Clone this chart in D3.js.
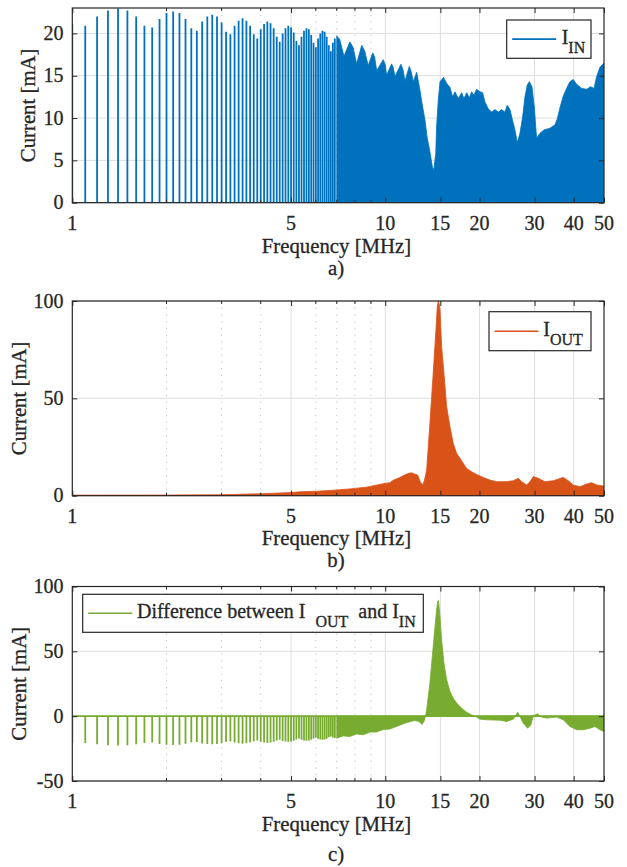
<!DOCTYPE html>
<html><head><meta charset="utf-8">
<script src="https://cdn.jsdelivr.net/npm/d3@7"></script>
<style>body{margin:0;background:#fff}</style>
</head><body>
<svg id="chart" width="627" height="867"></svg>
<script>
// ---------------- DATA ----------------
const xTickValues = [1, 5, 10, 15, 20, 30, 40, 50];
const xMinorGridValues = [2, 3, 4, 6, 7, 8, 9];
const xMinorTickValues = [2, 3, 4, 6, 7, 8, 9];
const yTicksA = [0, 5, 10, 15, 20];
const yTicksB = [0, 50, 100];
const yTicksC = [-50, 0, 50, 100];

// harmonic frequencies (MHz) where individual spectral lines are distinguishable
const harmonicFreqs = [1.0,1.1,1.2,1.3,1.4,1.5,1.6,1.7,1.8,1.9,2.0,2.1,2.2,2.3,2.4,2.5,2.6,2.7,2.8,2.9,
  3.0,3.1,3.2,3.3,3.4,3.5,3.6,3.7,3.8,3.9,4.0,4.1,4.2,4.3,4.4,4.5,4.6,4.7,4.8,4.9,
  5.0,5.1,5.2,5.3,5.4,5.5,5.6,5.7,5.8,5.9,6.0,6.1,6.2,6.3,6.4,6.5,6.6,6.7,6.8,6.9];

// I_IN line amplitudes (mA) at harmonicFreqs
const inSpikes = [21.1,20.9,22.0,22.7,22.95,22.7,22.0,20.9,20.7,21.7,22.4,22.6,22.4,21.7,20.6,20.3,21.4,22.0,22.2,22.0,
  21.3,20.2,19.9,20.9,21.5,21.8,21.5,20.9,19.9,19.4,20.5,21.1,21.4,21.2,20.6,19.6,19.0,20.0,20.6,20.9,
  20.7,20.1,19.1,18.6,19.6,20.3,20.6,20.5,19.8,18.9,18.35,19.4,20.0,20.3,20.2,19.6,18.6,17.9,18.9,19.4];

// I_IN envelope (dense region) [MHz, mA]
const inEnvelope = [[7.0,19.7],[7.15,19.3],[7.38,17.3],[7.71,19.0],[7.9,18.3],[8.1,16.4],[8.41,18.6],[8.6,17.9],
  [8.82,16.2],[9.12,17.7],[9.25,17.2],[9.39,15.6],[9.85,16.9],[10.0,16.3],[10.1,15.05],[10.48,16.4],[10.6,16.0],
  [10.74,14.9],[11.22,16.35],[11.4,15.7],[11.56,14.35],[11.93,16.1],[12.1,15.5],[12.29,14.3],[12.6,15.4],
  [12.91,13.3],[13.07,12.0],[13.4,9.7],[13.6,7.8],[13.89,6.0],[14.15,4.2],[14.3,3.9],[14.5,5.8],[14.59,9.0],
  [14.77,12.1],[14.96,14.3],[15.35,14.8],[15.71,14.1],[16.1,13.6],[16.42,12.5],[16.7,13.1],[17.12,12.3],
  [17.54,13.0],[17.84,12.3],[18.2,13.0],[18.56,12.4],[18.88,13.1],[19.2,12.7],[19.58,13.4],[20.07,13.1],
  [20.47,13.0],[20.82,11.9],[21.34,11.1],[21.87,10.7],[22.41,11.0],[22.97,10.7],[23.54,11.0],[24.12,10.7],
  [24.54,11.5],[25.03,11.0],[25.52,9.7],[25.97,8.6],[26.42,7.1],[26.94,8.2],[27.47,10.1],[27.95,12.5],
  [28.43,13.9],[28.86,14.3],[29.43,13.7],[29.94,11.3],[30.45,7.6],[31.22,8.2],[32.14,8.6],[33.59,8.8],
  [34.85,9.2],[35.45,9.9],[36.15,11.2],[37.05,12.6],[37.96,13.5],[38.91,14.3],[39.87,14.55],[40.87,14.0],
  [42.41,13.5],[44.0,13.4],[45.31,13.7],[46.44,13.5],[47.36,14.9],[48.52,16.0],[50.0,16.5]];

// I_OUT envelope [MHz, mA]
const outEnvelope = [[1.0,0.3],[2.0,0.35],[3.0,0.5],[4.0,1.0],[5.0,1.6],[5.34,2.0],[6.04,2.3],[6.82,2.8],
  [7.71,3.5],[8.72,4.4],[9.86,6.2],[10.35,6.7],[10.6,7.9],[11.08,9.2],[11.66,11.0],[12.09,11.8],[12.39,11.2],
  [12.69,10.6],[12.91,7.4],[13.17,5.5],[13.35,8.0],[13.56,13.2],[13.89,37.2],[14.23,62.9],[14.52,85.2],
  [14.66,97.0],[14.77,100.0],[14.9,98.0],[14.96,95.4],[15.14,76.6],[15.4,62.9],[15.71,45.7],[16.1,35.4],
  [16.49,26.9],[16.9,21.8],[17.33,19.2],[17.76,16.6],[18.2,14.0],[18.88,12.3],[19.58,10.9],[20.57,9.4],
  [21.6,8.0],[22.69,7.2],[24.42,7.2],[25.65,7.7],[26.61,8.9],[27.28,7.2],[28.29,5.5],[29.0,7.2],[29.72,9.8],
  [30.83,8.9],[32.38,7.2],[34.42,7.7],[37.05,9.4],[38.44,7.7],[39.87,5.5],[41.88,4.6],[44.0,6.0],[45.63,6.7],
  [47.35,5.5],[49.73,5.0],[50.0,5.0]];

// Difference I_OUT - I_IN line amplitudes (mA) at harmonicFreqs
const diffSpikes = [-20.8,-20.7,-21.7,-22.4,-22.7,-22.4,-21.7,-20.6,-20.4,-21.4,-22.1,-22.2,-22.0,-21.3,-20.2,-19.9,-21.0,-21.5,-21.7,-21.5,
  -20.8,-19.7,-19.4,-20.3,-20.9,-21.2,-20.9,-20.3,-19.3,-18.8,-19.8,-20.4,-20.6,-20.4,-19.8,-18.8,-18.1,-19.1,-19.6,-19.8,
  -19.5,-18.9,-17.9,-17.3,-18.2,-18.8,-19.0,-18.8,-18.1,-17.2,-16.6,-17.5,-18.0,-18.2,-18.0,-17.4,-16.3,-15.6,-16.5,-16.9];

// Difference envelope (dense region) [MHz, mA]
const diffEnvelope = [[7.0,-17.0],[7.34,-15.2],[7.71,-15.7],[8.1,-13.7],[8.51,-14.4],[8.94,-12.3],[9.38,-12.2],
  [9.86,-10.3],[10.35,-9.9],[10.87,-7.9],[11.66,-5.0],[12.39,-3.4],[12.8,-4.0],[13.1,-6.5],[13.3,-4.0],[13.45,0.0],
  [13.56,4.9],[13.89,25.6],[14.23,53.7],[14.52,76.9],[14.7,88.4],[14.8,89.2],[14.96,76.9],[15.14,58.9],[15.4,40.9],
  [15.71,28.1],[16.1,19.1],[16.49,13.9],[16.9,10.1],[17.33,7.5],[17.76,4.9],[18.2,3.1],[18.65,1.6],[19.1,0.3],
  [19.58,-0.7],[20.07,-2.3],[21.1,-2.8],[23.25,-3.1],[24.42,-4.1],[25.65,-2.3],[26.1,0.5],[26.5,3.0],[26.94,-0.3],
  [27.6,-5.4],[28.5,-9.3],[29.2,-6.7],[29.72,0.2],[30.6,1.8],[31.6,-0.7],[32.8,-1.5],[35.3,-0.7],[37.05,-2.8],
  [38.9,-7.9],[40.9,-10.5],[43.0,-10.5],[45.1,-9.3],[46.8,-7.9],[48.5,-10.5],[50.0,-11.8]];

// ---------------- DRAWING ----------------
const svg = d3.select("#chart");
const X0 = 72.3, X1 = 604;
const x = d3.scaleLog().domain([1, 50]).range([X0, X1]);
const INK = "#262626";
const fmt = d => String(d);
const textLayer = [];

function addText(props) { textLayer.push(props); }

function panel(cfg, idx) {
  const y = d3.scaleLinear().domain(cfg.yDomain).range([cfg.bottom, cfg.top]);
  const g = svg.append("g");
  const cid = "clip" + idx;
  svg.append("clipPath").attr("id", cid).append("rect")
    .attr("x", X0).attr("y", cfg.top).attr("width", X1 - X0).attr("height", cfg.bottom - cfg.top);

  // grid
  g.selectAll(".hg").data(cfg.yTicks).join("line")
    .attr("x1", X0).attr("x2", X1).attr("y1", d => y(d)).attr("y2", d => y(d))
    .attr("stroke", "#dedede").attr("stroke-width", 1);
  g.selectAll(".vg").data(xTickValues.slice(1, -1)).join("line")
    .attr("x1", d => x(d)).attr("x2", d => x(d)).attr("y1", cfg.top).attr("y2", cfg.bottom)
    .attr("stroke", "#dedede").attr("stroke-width", 1);
  g.selectAll(".mg").data(xMinorGridValues).join("line")
    .attr("x1", d => x(d)).attr("x2", d => x(d)).attr("y1", cfg.top).attr("y2", cfg.bottom)
    .attr("stroke", "#c4c4c4").attr("stroke-width", 1).attr("stroke-dasharray", "1.3,5.4");

  // data
  const dg = g.append("g").attr("clip-path", `url(#${cid})`);
  if (cfg.envelope) {
    const area = d3.area().x(d => x(d[0])).y0(y(0)).y1(d => y(d[1]));
    dg.append("path").datum(cfg.envelope).attr("d", area).attr("fill", cfg.color)
      .attr("stroke", cfg.color).attr("stroke-width", 0.8);
  }
  if (cfg.spikes) {
    dg.selectAll(".sp").data(cfg.spikes).join("line")
      .attr("x1", (d, i) => x(harmonicFreqs[i])).attr("x2", (d, i) => x(harmonicFreqs[i]))
      .attr("y1", y(0)).attr("y2", d => y(d))
      .attr("stroke", cfg.color).attr("stroke-width", 1.8);
  }
  dg.append("line").attr("x1", X0).attr("x2", X1).attr("y1", y(0)).attr("y2", y(0))
    .attr("stroke", cfg.color).attr("stroke-width", 1.6);

  // axes: tick marks by d3 axes, labels placed from the axis ticks
  const bottomAx = d3.axisBottom(x).tickValues(xTickValues).tickFormat(fmt).tickSizeInner(-5).tickSizeOuter(0);
  const topAx = d3.axisTop(x).tickValues(xTickValues).tickFormat("").tickSizeInner(-5).tickSizeOuter(0);
  const leftAx = d3.axisLeft(y).tickValues(cfg.yTicks).tickFormat(fmt).tickSizeInner(-5).tickSizeOuter(0);
  const rightAx = d3.axisRight(y).tickValues(cfg.yTicks).tickFormat("").tickSizeInner(-5).tickSizeOuter(0);
  const axes = [
    g.append("g").attr("transform", `translate(0,${cfg.bottom})`).call(bottomAx),
    g.append("g").attr("transform", `translate(0,${cfg.top})`).call(topAx),
    g.append("g").attr("transform", `translate(${X0},0)`).call(leftAx),
    g.append("g").attr("transform", `translate(${X1},0)`).call(rightAx)];
  axes.forEach(a => {
    a.select(".domain").remove();
    a.selectAll("line").attr("stroke", INK);
  });
  axes[0].selectAll(".tick").each(function (d) {
    addText({x: x(d), y: cfg.bottom + 27, anchor: "middle", s: bottomAx.tickFormat()(d)});
  });
  axes[2].selectAll(".tick").each(function (d) {
    addText({x: X0 - 8.8, y: y(d) + 6.6, anchor: "end", s: leftAx.tickFormat()(d)});
  });
  axes.forEach(a => a.selectAll("text").remove());

  // minor ticks
  [cfg.bottom, cfg.top].forEach((yy, k) => {
    g.selectAll(".mt" + k).data(xMinorTickValues).join("line")
      .attr("x1", d => x(d)).attr("x2", d => x(d))
      .attr("y1", yy).attr("y2", k === 0 ? yy - 3 : yy + 3).attr("stroke", INK);
  });
  // box
  g.append("rect").attr("x", X0).attr("y", cfg.top).attr("width", X1 - X0).attr("height", cfg.bottom - cfg.top)
    .attr("fill", "none").attr("stroke", INK).attr("stroke-width", 1.2);

  // titles
  addText({x: 336.5, y: cfg.freqY, anchor: "middle", s: "Frequency [MHz]", size: 20.8});
  addText({x: 336, y: cfg.capY, anchor: "middle", s: cfg.caption, size: 20.8});
  addText({x: 0, y: 0, anchor: "middle", s: "Current [mA]", size: 20.8,
    transform: `translate(${cfg.yTitleX},${(cfg.top + cfg.bottom) / 2}) rotate(-90)`});

  // legend
  const L = cfg.legend;
  g.append("rect").attr("x", L.x).attr("y", L.y).attr("width", L.w).attr("height", L.h)
    .attr("fill", "#fff").attr("stroke", INK).attr("stroke-width", 1.2);
  const my = L.y + L.h / 2;
  g.append("line").attr("x1", L.x + 5.5).attr("x2", L.x + 49.5).attr("y1", my).attr("y2", my)
    .attr("stroke", cfg.color).attr("stroke-width", 1.6);
  addText({x: L.tx, y: my + 4.8, anchor: "start", parts: L.parts});
}

panel({top: 8, bottom: 202.7, yDomain: [0, 23], yTicks: yTicksA, color: "#0072BD",
  spikes: inSpikes, envelope: inEnvelope, caption: "a)", capY: 275, freqY: 253, yTitleX: 35,
  legend: {x: 506.7, y: 20, w: 84.3, h: 38.3, tx: 561.7,
    parts: [{s: "I"}, {s: "IN", sub: true}]}}, 0);

panel({top: 301, bottom: 495.7, yDomain: [0, 100], yTicks: yTicksB, color: "#D95319",
  spikes: null, envelope: outEnvelope, caption: "b)", capY: 567, freqY: 545, yTitleX: 25.5,
  legend: {x: 489, y: 311.7, w: 102, h: 39, tx: 543.3,
    parts: [{s: "I"}, {s: "OUT", sub: true}]}}, 1);

panel({top: 586.5, bottom: 781, yDomain: [-50, 100], yTicks: yTicksC, color: "#77AC30",
  spikes: diffSpikes, envelope: diffEnvelope, caption: "c)", capY: 861, freqY: 831, yTitleX: 25.5,
  legend: {x: 82.7, y: 594.3, w: 340.6, h: 38, tx: 137,
    parts: [{s: "Difference between I"}, {s: "OUT", sub: true, dx: 10}, {s: " and I", up: true, dx: 5}, {s: "IN", sub: true}]}}, 2);

textLayer.forEach(p => {
  const t = svg.append("text")
    .attr("x", p.x).attr("y", p.y)
    .attr("font-size", p.size || 20)
    .style("font-family", '"Liberation Serif"')
    .attr("fill", INK).attr("stroke", INK).attr("stroke-width", 0.3)
    .attr("text-anchor", p.anchor);
  if (p.transform) t.attr("transform", p.transform);
  if (p.parts) {
    p.parts.forEach(q => {
      const ts = t.append("tspan").text(q.s);
      if (q.sub) ts.attr("font-size", 16).attr("dy", 9).attr("dx", q.dx || 0);
      else if (q.up) ts.attr("dy", -9).attr("dx", q.dx || 0);
    });
  } else t.text(p.s);
});
</script>
</body></html>
